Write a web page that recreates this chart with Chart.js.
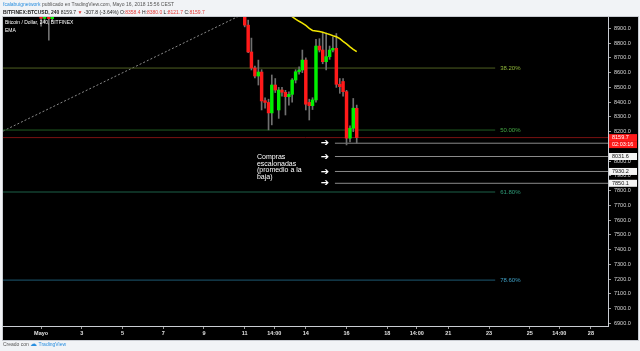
<!DOCTYPE html>
<html>
<head>
<meta charset="utf-8">
<script src="https://cdn.jsdelivr.net/npm/chart.js@4.4.1/dist/chart.umd.min.js"></script>
<style>
  html, body { margin: 0; padding: 0; background: #f1f3f6; }
  #wrap { position: relative; width: 640px; height: 351px; overflow: hidden; font-family: "Liberation Sans", Arial, sans-serif; }
  #chart { position: absolute; left: 0; top: 0; }
  .line { position: absolute; left: 3px; white-space: nowrap; font-size: 5px; line-height: 6px; color: #555; }
  .blue { color: #2a8fe0; }
  .red { color: #e53935; }
  #l2 { color: #222; font-weight: bold; }
</style>
</head>
<body>
<div id="wrap">
  <canvas id="chart" width="640" height="351"></canvas>
  <div class="line" id="l1" style="top:1px"><span class="blue">fcalabuignetwork</span> publicado en TradingView.com, Mayo 16, 2018 15:56 CEST</div>
  <div class="line" id="l2" style="top:8.5px">BITFINEX:BTCUSD, 240 <span style="font-weight:normal">8159.7</span> <span class="red">▼</span> <span style="font-weight:normal">-307.8 (-3.64%) O:<span class="red">8358.4</span> H:<span class="red">8380.0</span> L:<span class="red">8121.7</span> C:<span class="red">8159.7</span></span></div>
  <div class="line" style="top:341px">Creado con <span class="blue" style="font-size:7px">☁</span> <span class="blue">TradingView</span></div>
</div>
<script>
// Candle data (time in days of May, 4h bars)
const candleTimes = [1.00, 1.17, 1.38, 1.55,
  11.00, 11.17, 11.33, 11.50, 11.67, 11.83, 12.00, 12.17, 12.33, 12.50, 12.67, 12.83,
  13.00, 13.17, 13.33, 13.50, 13.67, 13.83, 14.00, 14.17, 14.33, 14.50, 14.67, 14.83,
  15.00, 15.17, 15.33, 15.50, 15.67, 15.83, 16.00, 16.17, 16.33, 16.50];
const opens  = [9010, 8968, 9020, 8966,
  9030, 8922, 8740, 8631, 8577, 8604, 8410, 8398, 8327, 8516, 8347, 8482,
  8467, 8437, 8453, 8550, 8606, 8618, 8685, 8398, 8376, 8415, 8780, 8753,
  8674, 8708, 8753, 8765, 8521, 8540, 8471, 8156, 8223, 8358.4];
const highs  = [9060, 9030, 9050, 9040,
  9060, 8956, 8834, 8645, 8685, 8620, 8430, 8420, 8584, 8560, 8500, 8500,
  8480, 8470, 8560, 8620, 8640, 8753, 8700, 8420, 8430, 8826, 8830, 8868,
  8868, 8780, 8841, 8865, 8560, 8560, 8480, 8240, 8425, 8380.0];
const lows   = [8915, 8945, 8820, 8950,
  8910, 8735, 8618, 8565, 8516, 8347, 8360, 8212, 8246, 8465, 8290, 8440,
  8313, 8380, 8400, 8530, 8590, 8600, 8347, 8279, 8350, 8400, 8740, 8660,
  8618, 8690, 8740, 8500, 8460, 8440, 8110, 8130, 8200, 8121.7];
const closes = [8968, 9010, 8966, 9015,
  8922, 8740, 8631, 8577, 8604, 8408, 8398, 8327, 8516, 8482, 8482, 8467,
  8437, 8453, 8550, 8606, 8618, 8685, 8386, 8376, 8415, 8780, 8753, 8674,
  8708, 8753, 8765, 8521, 8505, 8471, 8156, 8223, 8359, 8159.7];

const emaTimes  = [13.00, 13.17, 13.33, 13.50, 13.67, 13.83, 14.00, 14.17, 14.33, 14.50, 14.67,
  14.83, 15.00, 15.17, 15.33, 15.50, 15.67, 15.83, 16.00, 16.17, 16.33, 16.50];
const emaValues = [9020, 9000, 8979, 8962, 8948, 8936, 8920, 8900, 8886, 8882, 8878,
  8873, 8866, 8859, 8850, 8843, 8830, 8812, 8795, 8775, 8758, 8742];

const priceTicks = [6900, 7000, 7100, 7200, 7300, 7400, 7500, 7600, 7700, 7800, 7900,
  8000, 8100, 8200, 8300, 8400, 8500, 8600, 8700, 8800, 8900];
const dayTicks  = [1, 3, 5, 7, 9, 11, 12.45, 14, 16, 18, 19.45, 21, 23, 25, 26.45, 28];
const dayLabels = ['Mayo', '3', '5', '7', '9', '11', '14:00', '14', '16', '18', '14:00', '21', '23', '25', '14:00', '28'];

const fibLevels = [8631, 8211, 7791, 7194];
const fibLabels = ['38.20%', '50.00%', '61.80%', '78.60%'];
const fibLineColors = ['#4f5f22', '#1f5c22', '#1c6149', '#1d5a73'];
const fibTextColors = ['#8fb53a', '#45a845', '#2f9c79', '#3f9fc4'];
const fibEnd = 23.3;

const buyLevels = [8121.7, 8031.6, 7930.2, 7850.1];
const buyStart = 15.43;
const arrowAt = 14.94;
const lastPrice = 8159.7;
const trendTimes = [-0.87, 11.5];
const trendValues = [8204, 9036];

const xMin = -0.87, xMax = 28.84, yMin = 6883, yMax = 8977;

const RED = '#ff1a1a', GREEN = '#00f000';
const candleColors = opens.map((o, i) => closes[i] >= o ? GREEN : RED);

const hLine = (y, x0, x1) => [{ x: x0, y: y }, { x: x1, y: y }];

// higher order = drawn further back
const datasets = [];
fibLevels.forEach((v, i) => datasets.push({
  type: 'line', data: hLine(v, xMin, fibEnd), borderColor: fibLineColors[i],
  borderWidth: 1, pointRadius: 0, clip: 0, order: 5
}));
datasets.push({
  type: 'line', data: hLine(lastPrice, xMin, xMax), borderColor: '#7a1111',
  borderWidth: 1, pointRadius: 0, clip: 0, order: 5
});
buyLevels.forEach(v => datasets.push({
  type: 'line', data: hLine(v, buyStart, xMax), borderColor: '#8a8a8a',
  borderWidth: 1, pointRadius: 0, clip: 0, order: 5
}));
datasets.push({
  type: 'line', data: trendTimes.map((t, i) => ({ x: t, y: trendValues[i] })),
  borderColor: '#8a8a8a', borderWidth: 1, borderDash: [2, 2], pointRadius: 0, clip: 0, order: 5
});
// wicks
datasets.push({
  type: 'bar', data: candleTimes.map((t, i) => ({ x: t, y: [lows[i], highs[i]] })),
  backgroundColor: '#707070', barThickness: 1, grouped: false, clip: 0, order: 3
});
// bodies
datasets.push({
  type: 'bar', data: candleTimes.map((t, i) => ({ x: t, y: [opens[i], closes[i]] })),
  backgroundColor: candleColors, barThickness: 2.8, grouped: false, clip: 0, order: 2
});
datasets.push({
  type: 'line', data: emaTimes.map((t, i) => ({ x: t, y: emaValues[i] })),
  borderColor: '#f2e600', borderWidth: 1.5, pointRadius: 0, tension: 0, clip: 0, order: 1
});

const FONT = '"Liberation Sans", Arial, sans-serif';

const tvPlugin = {
  id: 'tv',
  beforeDraw(chart) {
    const { ctx, chartArea: a } = chart;
    ctx.save();
    ctx.fillStyle = '#000';
    ctx.fillRect(a.left, a.top, a.right + 30 - a.left, a.bottom + 14 - a.top);
    ctx.strokeStyle = '#c9ccd2';
    ctx.lineWidth = 1;
    ctx.strokeRect(a.left - 0.5, a.top - 0.5, a.right + 30 - a.left + 1, a.bottom + 14 - a.top + 1);
    ctx.restore();
  },
  afterDatasetsDraw(chart) {
    const { ctx, chartArea: a } = chart;
    const xs = chart.scales.x, ys = chart.scales.y;
    ctx.save();
    ctx.textBaseline = 'middle';
    ctx.font = '6px ' + FONT;
    fibLevels.forEach((v, i) => {
      ctx.fillStyle = fibTextColors[i];
      ctx.fillText(fibLabels[i], xs.getPixelForValue(fibEnd) + 5, ys.getPixelForValue(v));
    });
    // arrows
    ctx.fillStyle = '#fff';
    ctx.font = 'bold 10px "DejaVu Sans", sans-serif';
    ctx.textAlign = 'center';
    buyLevels.forEach(v => ctx.fillText('➔', xs.getPixelForValue(arrowAt), ys.getPixelForValue(v) + 0.5));
    // note
    ctx.textAlign = 'left';
    ctx.textBaseline = 'top';
    ctx.font = '7px ' + FONT;
    const nx = xs.getPixelForValue(11.6), ny = ys.getPixelForValue(8050);
    ['Compras', 'escalonadas', '(promedio a la', 'baja)'].forEach((s, i) => ctx.fillText(s, nx, ny + i * 6.6));
    // title
    ctx.font = '5px ' + FONT;
    ctx.fillText('Bitcoin / Dollar, 240, BITFINEX', a.left + 2, a.top + 3);
    ctx.fillText('EMA', a.left + 2, a.top + 11);
    ctx.restore();
  },
  afterDraw(chart) {
    const { ctx, chartArea: a } = chart;
    const ys = chart.scales.y;
    ctx.save();
    ctx.font = '5.5px ' + FONT;
    ctx.textBaseline = 'middle';
    const box = (y, bg, fg, txt) => {
      ctx.fillStyle = bg;
      ctx.fillRect(a.right + 1, y - 3.5, 28, 7);
      ctx.fillStyle = fg;
      ctx.fillText(txt, a.right + 4, y);
    };
    const py = ys.getPixelForValue(lastPrice);
    box(py, RED, '#fff', lastPrice.toFixed(1));
    box(py + 7, RED, '#fff', '02:03:16');
    buyLevels.slice(1).forEach(v => box(ys.getPixelForValue(v), '#f4f4f4', '#111', v.toFixed(1)));
    ctx.restore();
  }
};

new Chart(document.getElementById('chart'), {
  type: 'bar',
  data: { datasets },
  plugins: [tvPlugin],
  options: {
    responsive: false,
    devicePixelRatio: 1,
    animation: false,
    layout: { padding: { left: 3, top: 17, right: 2, bottom: 11 } },
    plugins: { legend: { display: false }, tooltip: { enabled: false } },
    scales: {
      x: {
        type: 'linear', min: xMin, max: xMax, offset: false,
        afterFit: s => { s.height = 14; },
        afterBuildTicks: s => { s.ticks = dayTicks.map(v => ({ value: v })); },
        ticks: {
          autoSkip: false, maxRotation: 0, color: '#e0e0e0', padding: 1,
          font: { size: 5.5, family: FONT, weight: 'bold' },
          callback: (v, i) => dayLabels[i]
        },
        grid: { drawOnChartArea: false, offset: false, color: '#9a9a9a', tickLength: 3 },
        border: { color: '#c9ccd2' }
      },
      y: {
        type: 'linear', position: 'right', min: yMin, max: yMax,
        afterFit: s => { s.width = 30; },
        afterBuildTicks: s => { s.ticks = priceTicks.map(v => ({ value: v })); },
        ticks: {
          color: '#d8d8d8', padding: 3,
          font: { size: 5.5, family: FONT },
          callback: v => v.toFixed(1)
        },
        grid: { drawOnChartArea: false, color: '#9a9a9a', tickLength: 3 },
        border: { color: '#c9ccd2' }
      }
    }
  }
});
</script>
</body>
</html>
